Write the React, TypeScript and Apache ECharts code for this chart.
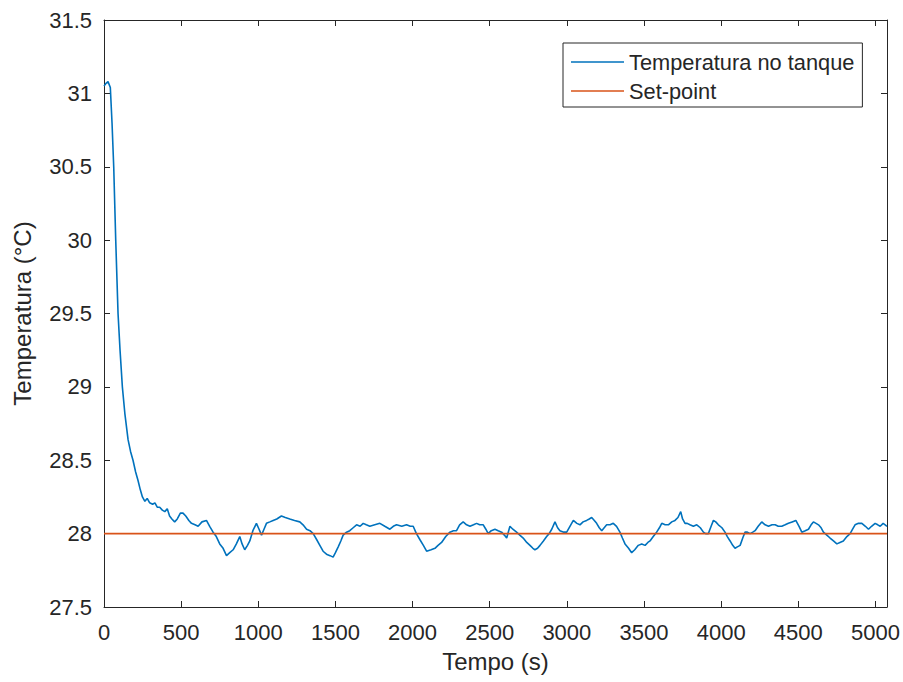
import React, { useEffect, useRef } from "react";
import * as echarts from "echarts";

const FONT = "'Liberation Sans', Arial, Helvetica, sans-serif";
const TEXT = "#262626";

const xTicks = [0, 500, 1000, 1500, 2000, 2500, 3000, 3500, 4000, 4500, 5000];
const yTicks = [27.5, 28, 28.5, 29, 29.5, 30, 30.5, 31, 31.5];

const times = [
  0, 15, 26, 41, 52, 63, 76, 91, 104, 119, 135, 156, 172, 188, 205, 221, 235, 249, 265, 280,
  296, 315, 330, 345, 361, 378, 394, 410, 425, 440, 458, 475, 495, 512, 530, 550, 567, 590, 610, 635,
  664, 685, 707, 728, 750, 772, 794, 815, 837, 858, 880, 895, 912, 930, 945, 965, 988, 1005, 1021, 1037,
  1053, 1075, 1096, 1120, 1150, 1175, 1204, 1235, 1269, 1290, 1313, 1335, 1356, 1378, 1399, 1420, 1442, 1465, 1485, 1500,
  1518, 1535, 1550, 1572, 1593, 1615, 1637, 1660, 1680, 1700, 1723, 1755, 1788, 1820, 1853, 1875, 1896, 1930, 1961, 1985,
  2004, 2025, 2047, 2070, 2091, 2120, 2145, 2165, 2188, 2215, 2242, 2265, 2285, 2305, 2328, 2350, 2372, 2395, 2415, 2435,
  2458, 2475, 2490, 2510, 2534, 2555, 2577, 2595, 2610, 2631, 2650, 2674, 2695, 2717, 2740, 2761, 2780, 2793, 2810, 2826,
  2848, 2869, 2885, 2902, 2923, 2940, 2955, 2980, 2999, 3020, 3042, 3065, 3085, 3105, 3128, 3145, 3161, 3178, 3193, 3210,
  3226, 3242, 3258, 3280, 3301, 3322, 3344, 3360, 3377, 3400, 3420, 3440, 3463, 3485, 3507, 3525, 3539, 3560, 3582, 3600,
  3615, 3637, 3658, 3680, 3701, 3720, 3738, 3750, 3766, 3780, 3798, 3820, 3842, 3865, 3885, 3900, 3917, 3935, 3950, 3965,
  3982, 4005, 4025, 4040, 4058, 4075, 4090, 4105, 4123, 4140, 4155, 4170, 4188, 4205, 4220, 4240, 4263, 4285, 4307, 4330,
  4350, 4370, 4393, 4415, 4436, 4460, 4484, 4505, 4523, 4545, 4566, 4583, 4598, 4615, 4631, 4648, 4663, 4685, 4706, 4728,
  4750, 4770, 4792, 4815, 4836, 4852, 4868, 4890, 4912, 4935, 4955, 4975, 4998, 5015, 5031, 5050, 5063, 5075,
];

const temps = [
  31.05, 31.07, 31.08, 31.04, 30.8, 30.5, 30.0, 29.5, 29.25, 29.0, 28.82, 28.64, 28.56, 28.5, 28.42, 28.36, 28.3, 28.25, 28.22, 28.24,
  28.21, 28.2, 28.21, 28.18, 28.18, 28.16, 28.15, 28.17, 28.12, 28.1, 28.08, 28.1, 28.14, 28.14, 28.12, 28.09, 28.07, 28.06, 28.05, 28.08,
  28.09, 28.05, 28.01, 27.98, 27.93, 27.9, 27.85, 27.87, 27.89, 27.93, 27.98, 27.93, 27.89, 27.92, 27.95, 28.02, 28.07, 28.03, 27.99, 28.03,
  28.07, 28.08, 28.09, 28.1, 28.12, 28.11, 28.1, 28.09, 28.08, 28.06, 28.03, 28.02, 28.0, 27.96, 27.92, 27.88, 27.86, 27.85, 27.84, 27.87,
  27.91, 27.95, 27.99, 28.01, 28.02, 28.04, 28.06, 28.05, 28.07, 28.06, 28.05, 28.06, 28.07, 28.05, 28.03, 28.05, 28.06, 28.05, 28.06, 28.05,
  28.05, 28.0, 27.96, 27.92, 27.88, 27.89, 27.9, 27.92, 27.94, 27.98, 28.01, 28.02, 28.02, 28.06, 28.08, 28.06, 28.05, 28.06, 28.07, 28.06,
  28.06, 28.03, 28.0, 28.02, 28.03, 28.02, 28.01, 27.99, 27.97, 28.05, 28.03, 28.01, 27.99, 27.97, 27.94, 27.92, 27.9, 27.89, 27.9, 27.92,
  27.95, 27.98, 28.0, 28.03, 28.08, 28.04, 28.02, 28.01, 28.01, 28.05, 28.09, 28.07, 28.06, 28.08, 28.09, 28.1, 28.11, 28.09, 28.07, 28.04,
  28.02, 28.04, 28.06, 28.06, 28.07, 28.05, 28.01, 27.97, 27.93, 27.9, 27.87, 27.89, 27.92, 27.93, 27.92, 27.94, 27.95, 27.98, 28.01, 28.04,
  28.07, 28.06, 28.06, 28.08, 28.09, 28.11, 28.15, 28.1, 28.07, 28.07, 28.06, 28.05, 28.06, 28.04, 28.01, 28.0, 28.0, 28.05, 28.09, 28.08,
  28.06, 28.04, 28.01, 27.98, 27.95, 27.92, 27.9, 27.91, 27.92, 27.97, 28.01, 28.01, 28.0, 28.01, 28.02, 28.05, 28.08, 28.06, 28.05, 28.06,
  28.06, 28.05, 28.05, 28.06, 28.07, 28.08, 28.09, 28.05, 28.01, 28.02, 28.03, 28.06, 28.08, 28.07, 28.06, 28.04, 28.01, 27.99, 27.97, 27.95,
  27.93, 27.94, 27.95, 27.98, 28.0, 28.03, 28.06, 28.07, 28.07, 28.05, 28.03, 28.05, 28.07, 28.06, 28.05, 28.07, 28.06, 28.05,
];

const setPointTimes = [0, 5075];
const setPointValues = [28, 28];

const X_MAX = 5075;

export default function App() {
  const ref = useRef<HTMLDivElement>(null);

  useEffect(() => {
    document.body.style.margin = "0";
    if (!ref.current) return;
    const chart = echarts.init(ref.current, undefined, { renderer: "svg" });

    const axisLine = { show: true, onZero: false, lineStyle: { color: TEXT, width: 1 } };
    const tick = { show: true, inside: true, length: 6, lineStyle: { color: TEXT, width: 1 } };

    const tempData = times.map((t, i) => [t, temps[i]]);
    const spData = setPointTimes.map((t, i) => [t, setPointValues[i]]);

    chart.setOption({
      animation: false,
      backgroundColor: "#ffffff",
      grid: { left: 104, right: 16, top: 20, bottom: 75, containLabel: false },
      legend: {
        data: [
          { name: "Temperatura no tanque", icon: "rect" },
          { name: "Set-point", icon: "rect" },
        ],
        orient: "vertical",
        left: 563,
        top: 43,
        padding: [8, 8, 5, 8],
        itemGap: 7,
        itemWidth: 53,
        itemHeight: 1.6,
        borderColor: TEXT,
        borderWidth: 1,
        borderRadius: 0,
        backgroundColor: "#ffffff",
        textStyle: { fontSize: 21.8, color: TEXT, fontFamily: FONT, lineHeight: 21 },
      },
      xAxis: [
        {
          type: "value",
          position: "bottom",
          min: 0,
          max: X_MAX,
          interval: 500,
          name: "Tempo (s)",
          nameLocation: "middle",
          nameGap: 42,
          nameTextStyle: { fontSize: 24, color: TEXT, fontFamily: FONT },
          axisLine,
          axisTick: { ...tick, customValues: xTicks },
          axisLabel: {
            customValues: xTicks,
            formatter: (v: number) => String(v),
            fontSize: 22,
            color: TEXT,
            fontFamily: FONT,
            margin: 14,
          },
          splitLine: { show: false },
        },
        {
          type: "value",
          position: "top",
          min: 0,
          max: X_MAX,
          interval: 500,
          axisLine,
          axisTick: { ...tick, customValues: xTicks },
          axisLabel: { show: false },
          splitLine: { show: false },
        },
      ],
      yAxis: [
        {
          type: "value",
          position: "left",
          min: 27.5,
          max: 31.5,
          interval: 0.5,
          name: "Temperatura (°C)",
          nameLocation: "middle",
          nameGap: 70,
          nameTextStyle: { fontSize: 24, color: TEXT, fontFamily: FONT },
          axisLine,
          axisTick: { ...tick, customValues: yTicks },
          axisLabel: {
            customValues: yTicks,
            formatter: (v: number) => String(v),
            fontSize: 22,
            color: TEXT,
            fontFamily: FONT,
            margin: 12,
          },
          splitLine: { show: false },
        },
        {
          type: "value",
          position: "right",
          min: 27.5,
          max: 31.5,
          interval: 0.5,
          axisLine,
          axisTick: { ...tick, customValues: yTicks },
          axisLabel: { show: false },
          splitLine: { show: false },
        },
      ],
      series: [
        {
          name: "Temperatura no tanque",
          type: "line",
          xAxisIndex: 0,
          yAxisIndex: 0,
          data: tempData,
          symbol: "none",
          showSymbol: false,
          lineStyle: { color: "#0072BD", width: 1.6 },
          itemStyle: { color: "#0072BD" },
        },
        {
          name: "Set-point",
          type: "line",
          xAxisIndex: 0,
          yAxisIndex: 0,
          data: spData,
          symbol: "none",
          showSymbol: false,
          lineStyle: { color: "#D95319", width: 1.6 },
          itemStyle: { color: "#D95319" },
        },
      ],
    });

    return () => chart.dispose();
  }, []);

  return <div ref={ref} style={{ width: 903, height: 682 }} />;
}
